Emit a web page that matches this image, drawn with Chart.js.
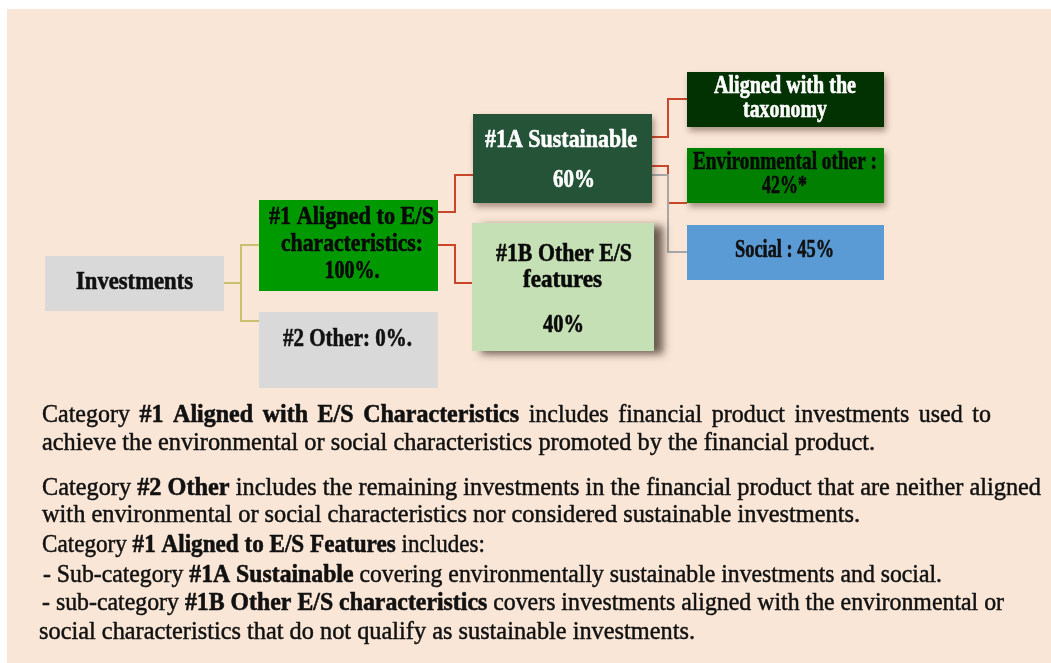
<!DOCTYPE html>
<html>
<head>
<meta charset="utf-8">
<script src="https://cdn.jsdelivr.net/npm/chart.js@4/dist/chart.umd.min.js"></script>
<style>
  html, body { margin: 0; padding: 0; background: #ffffff; }
  #wrap { width: 1051px; height: 663px; }
</style>
</head>
<body>
<div id="wrap"><canvas id="tree" width="1051" height="663"></canvas></div>
<script>
// --- data: the breakdown of the investments ---
const nodeNames = ["Investments", "#1 Aligned to E/S characteristics:", "#2 Other:", "#1A Sustainable",
                   "#1B Other E/S features", "Aligned with the taxonomy", "Environmental other :", "Social :"];
const nodeValues = [null, 100, 0, 60, 40, null, 42, 45];
const valueSuffix = ["", "%.", "%.", "%", "%", "", "%*", "%"];
// parent -> child links
const links = [[0, 1], [0, 2], [1, 3], [1, 4], [3, 5], [3, 6], [3, 7]];

// how each node name wraps inside its box (value placed on own line or same line)
const nameBreaks = [["Investments"], ["#1 Aligned to E/S", "characteristics:"], ["#2 Other:"], ["#1A Sustainable"],
                    ["#1B Other E/S", "features"], ["Aligned with the", "taxonomy"], ["Environmental other :"], ["Social :"]];
const valueInline = [false, false, true, false, false, false, false, true];

// explanatory notes under the diagram ([text, bold])
const notes = [
  [["Category ", 0], ["#1 Aligned with E/S Characteristics", 1], [" includes financial product investments used to", 0]],
  [["achieve the environmental or social characteristics promoted by the financial product.", 0]],
  [["Category ", 0], ["#2 Other", 1], [" includes the remaining investments in the financial product that are neither aligned", 0]],
  [["with environmental or social characteristics nor considered sustainable investments.", 0]],
  [["Category ", 0], ["#1 Aligned to E/S Features", 1], [" includes:", 0]],
  [["- Sub-category ", 0], ["#1A Sustainable", 1], [" covering environmentally sustainable investments and social.", 0]],
  [["- sub-category ", 0], ["#1B Other E/S characteristics", 1], [" covers investments aligned with the environmental or", 0]],
  [["social characteristics that do not qualify as sustainable investments.", 0]]
];

// --- layout (in the 1051 x 663 scale space) ---
const boxes = [
  { x0: 45,  y0: 256, x1: 224, y1: 311, fill: "#d9d9d9", ink: "#111111", shadow: 0 },
  { x0: 259, y0: 200, x1: 438, y1: 291, fill: "#009900", ink: "#0a0a0a", shadow: 0 },
  { x0: 259, y0: 312, x1: 438, y1: 388, fill: "#d9d9d9", ink: "#111111", shadow: 0 },
  { x0: 473, y0: 114, x1: 652, y1: 203, fill: "#255338", ink: "#ffffff", shadow: 1 },
  { x0: 472, y0: 223, x1: 654, y1: 351, fill: "#c5e0b4", ink: "#0a0a0a", shadow: 2 },
  { x0: 687, y0: 72,  x1: 884, y1: 127, fill: "#023202", ink: "#ffffff", shadow: 1 },
  { x0: 687, y0: 148, x1: 884, y1: 203, fill: "#007f00", ink: "#0a0a0a", shadow: 1 },
  { x0: 687, y0: 225, x1: 884, y1: 280, fill: "#5b9bd5", ink: "#111111", shadow: 0 }
];
// per text line in each box: [centerX, centerY, width]
const boxLines = [
  [[134.5, 283, 117]],
  [[351.5, 218, 165], [352, 245, 142], [352, 272, 55]],
  [[347.5, 340, 129]],
  [[561, 141, 152], [574, 181, 42]],
  [[564, 255, 136], [562.5, 281, 79], [563.5, 326, 41]],
  [[785, 87, 142], [785, 111, 84]],
  [[785, 163, 184], [784.5, 187, 45]],
  [[784.5, 251, 99]]
];
// elbow connectors per link: [startX, startY, elbowX, endY, endX]
const linkPaths = [
  [224, 283, 241, 245, 259], [224, 283, 241, 321, 259],
  [438, 212, 455, 175, 473], [438, 245, 455, 283, 472],
  [652, 137, 668, 99, 687], [652, 166, 668, 203, 687], [652, 175, 668, 252, 687]
];
const linkColors = ["#cdbf72", "#cdbf72", "#c8472b", "#c8472b", "#c8472b", "#c8472b", "#a6a6a6"];
// notes: [left, centerY, width, justify]
const noteLines = [
  [42, 415, 949, true], [42, 443, 833, false], [42, 488, 999, false], [42, 515, 818, false],
  [42, 545, 443, false], [43, 575, 899, false], [42, 603, 962, false], [39, 632, 656, false]
];

const SERIF = '"Liberation Serif", "Times New Roman", serif';
const NOTE_SIZE = 26;
const BOX_SIZE = 25;

function boxTexts(i) {
  const lines = nameBreaks[i].slice();
  if (nodeValues[i] !== null) {
    const v = nodeValues[i] + valueSuffix[i];
    if (valueInline[i]) lines[lines.length - 1] += " " + v;
    else lines.push(v);
  }
  return lines;
}

function drawRuns(ctx, runs, left, cy, width, size, color, sxFixed) {
  const tokens = [];
  runs.forEach(r => r[0].split(/( )/).forEach(s => { if (s) tokens.push({ t: s, b: r[1] }); }));
  tokens.forEach(k => {
    ctx.font = (k.b ? "bold " : "") + size + "px " + SERIF;
    k.w = ctx.measureText(k.t).width;
  });
  const natural = tokens.reduce((s, k) => s + k.w, 0);
  let sx = width / natural, gap = 0;
  if (sxFixed) {
    sx = sxFixed;
    const spaces = tokens.filter(k => k.t === " ").length;
    gap = (width - natural * sx) / spaces;
  }
  ctx.save();
  ctx.translate(left, cy);
  ctx.scale(sx, 1);
  ctx.fillStyle = color;
  ctx.strokeStyle = color;
  ctx.lineJoin = "round";
  ctx.textBaseline = "middle";
  ctx.textAlign = "left";
  let x = 0;
  tokens.forEach(k => {
    ctx.font = (k.b ? "bold " : "") + size + "px " + SERIF;
    ctx.fillText(k.t, x, 0);
    // thicken a little, the source face is heavier than Liberation
    ctx.lineWidth = k.b ? 0.6 : 0.5;
    ctx.strokeText(k.t, x, 0);
    x += k.w + (k.t === " " ? gap / sx : 0);
  });
  ctx.restore();
  return sx;
}

const treePlugin = {
  id: "tree",
  beforeDraw(chart) {
    const ctx = chart.ctx;
    const px = v => chart.scales.x.getPixelForValue(v);
    const py = v => chart.scales.y.getPixelForValue(v);
    ctx.save();
    ctx.fillStyle = "#ffffff";
    ctx.fillRect(0, 0, chart.width, chart.height);
    ctx.fillStyle = "#f9e6d6";
    ctx.fillRect(px(7), py(9), px(1051) - px(7), py(663) - py(9));

    // connectors
    links.forEach((lk, i) => {
      const p = linkPaths[i];
      ctx.strokeStyle = linkColors[i];
      ctx.lineWidth = 2;
      ctx.beginPath();
      ctx.moveTo(px(p[0]), py(p[1]));
      ctx.lineTo(px(p[2]), py(p[1]));
      ctx.lineTo(px(p[2]), py(p[3]));
      ctx.lineTo(px(p[4]), py(p[3]));
      ctx.stroke();
    });

    // boxes
    boxes.forEach((b, i) => {
      ctx.save();
      if (b.shadow === 1) {
        ctx.shadowColor = "rgba(70,45,30,0.45)";
        ctx.shadowBlur = 6; ctx.shadowOffsetX = 2; ctx.shadowOffsetY = 4;
      } else if (b.shadow === 2) {
        ctx.shadowColor = "rgba(60,45,35,0.75)";
        ctx.shadowBlur = 8; ctx.shadowOffsetX = 9; ctx.shadowOffsetY = 3;
      }
      ctx.fillStyle = b.fill;
      ctx.fillRect(px(b.x0), py(b.y0), px(b.x1) - px(b.x0), py(b.y1) - py(b.y0));
      ctx.restore();
      const texts = boxTexts(i);
      texts.forEach((t, j) => {
        const l = boxLines[i][j];
        const w = px(l[0] + l[2] / 2) - px(l[0] - l[2] / 2);
        drawRuns(ctx, [[t, 1]], px(l[0] - l[2] / 2), py(l[1]), w, BOX_SIZE, b.ink);
      });
    });

    // notes
    const sxs = [];
    notes.forEach((runs, i) => {
      const l = noteLines[i];
      if (l[3]) return;
      sxs.push(drawRuns(ctx, runs, px(l[0]), py(l[1]), px(l[0] + l[2]) - px(l[0]), NOTE_SIZE, "#111111"));
    });
    const avgSx = sxs.reduce((a, b) => a + b, 0) / sxs.length;
    notes.forEach((runs, i) => {
      const l = noteLines[i];
      if (!l[3]) return;
      drawRuns(ctx, runs, px(l[0]), py(l[1]), px(l[0] + l[2]) - px(l[0]), NOTE_SIZE, "#111111", avgSx);
    });
    ctx.restore();
  }
};

new Chart(document.getElementById("tree"), {
  type: "scatter",
  data: { labels: nodeNames, datasets: [{ data: [], pointRadius: 0 }] },
  options: {
    responsive: false,
    animation: false,
    layout: { padding: 0 },
    plugins: { legend: { display: false }, tooltip: { enabled: false } },
    scales: {
      x: { type: "linear", min: 0, max: 1051, display: false },
      y: { type: "linear", min: 0, max: 663, reverse: true, display: false }
    }
  },
  plugins: [treePlugin]
});
</script>
</body>
</html>
